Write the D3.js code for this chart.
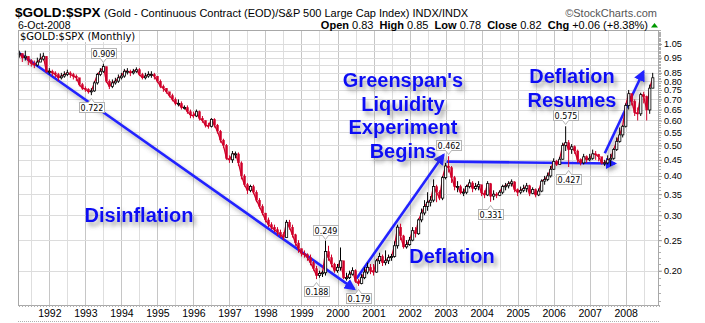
<!DOCTYPE html>
<html><head><meta charset="utf-8">
<script src="https://cdn.jsdelivr.net/npm/d3@7"></script>
<style>body{margin:0;background:#fff}svg{display:block}</style>
</head><body><svg id="c" width="705" height="323"></svg>
<script>
// ---- data (monthly, starting March 1991) ----
const firstYear = 1991, firstMonth = 2; // 0-based month index: March
const closes = [
  0.98,0.95,0.96,0.93,0.91,0.90,0.92,0.94,0.96,0.86,
  0.86,0.85,0.84,0.82,0.83,0.84,0.85,0.84,0.83,0.82,0.78,0.76,
  0.755,0.74,0.745,0.79,0.84,0.86,0.89,0.80,0.77,0.79,0.80,0.82,
  0.83,0.86,0.86,0.85,0.86,0.87,0.84,0.82,0.83,0.84,0.84,0.83,
  0.80,0.77,0.76,0.74,0.72,0.70,0.68,0.68,0.66,0.66,0.64,0.625,
  0.62,0.64,0.61,0.60,0.58,0.575,0.605,0.58,0.555,0.52,0.50,0.455,
  0.45,0.47,0.47,0.44,0.40,0.375,0.36,0.37,0.355,0.335,0.32,0.305,
  0.29,0.28,0.275,0.27,0.265,0.26,0.255,0.285,0.275,0.26,0.245,0.235,
  0.227,0.225,0.22,0.212,0.203,0.193,0.196,0.197,0.23,0.22,0.21,0.20,
  0.205,0.215,0.19,0.19,0.195,0.20,0.185,0.182,0.19,0.198,0.205,0.20,
  0.198,0.215,0.222,0.212,0.215,0.22,0.222,0.24,0.275,0.258,0.238,0.242,
  0.25,0.268,0.262,0.29,0.305,0.32,0.33,0.335,0.37,0.355,0.34,0.395,
  0.43,0.425,0.395,0.37,0.37,0.355,0.355,0.37,0.38,0.365,0.37,0.375,
  0.353,0.348,0.378,0.345,0.35,0.347,0.355,0.37,0.372,0.378,0.383,0.362,
  0.355,0.36,0.365,0.372,0.352,0.362,0.348,0.358,0.385,0.39,0.40,0.42,
  0.445,0.435,0.452,0.50,0.51,0.485,0.495,0.48,0.45,0.44,0.46,0.45,
  0.455,0.47,0.468,0.46,0.44,0.44,0.45,0.455,0.485,0.515,0.54,0.575,
  0.67,0.73,0.69,0.635,0.63,0.725,0.715,0.648,0.76,0.82
];
const highs = [
  1.00,0.98,1.00,0.96,0.94,0.93,0.95,0.98,0.985,0.96,
  0.88,0.87,0.86,0.85,0.85,0.86,0.87,0.86,0.85,0.84,0.82,0.79,
  0.77,0.76,0.76,0.80,0.85,0.88,0.909,0.89,0.81,0.81,0.82,0.84,
  0.85,0.875,0.88,0.87,0.875,0.885,0.88,0.85,0.85,0.86,0.86,0.85,
  0.83,0.81,0.78,0.76,0.74,0.73,0.71,0.70,0.69,0.67,0.67,0.65,
  0.64,0.65,0.645,0.62,0.60,0.59,0.61,0.61,0.585,0.56,0.525,0.505,
  0.465,0.48,0.478,0.475,0.445,0.405,0.38,0.375,0.375,0.36,0.34,0.325,
  0.305,0.295,0.285,0.28,0.275,0.27,0.265,0.29,0.29,0.28,0.262,0.25,
  0.235,0.232,0.227,0.225,0.215,0.207,0.20,0.20,0.249,0.24,0.225,0.212,
  0.21,0.237,0.215,0.197,0.20,0.205,0.202,0.188,0.195,0.205,0.212,0.21,
  0.21,0.218,0.228,0.225,0.232,0.225,0.226,0.248,0.28,0.282,0.26,0.25,
  0.256,0.275,0.275,0.293,0.315,0.335,0.355,0.345,0.39,0.375,0.36,0.40,
  0.44,0.462,0.43,0.40,0.385,0.375,0.365,0.375,0.39,0.385,0.38,0.385,
  0.375,0.36,0.385,0.38,0.36,0.355,0.36,0.375,0.38,0.385,0.39,0.385,
  0.365,0.37,0.375,0.38,0.375,0.368,0.365,0.365,0.39,0.40,0.41,0.43,
  0.455,0.45,0.46,0.51,0.575,0.52,0.505,0.50,0.485,0.455,0.47,0.465,
  0.47,0.485,0.48,0.47,0.46,0.45,0.465,0.47,0.49,0.53,0.57,0.58,
  0.68,0.75,0.73,0.70,0.66,0.735,0.74,0.72,0.78,0.85
];
const lows = [
  0.95,0.92,0.93,0.90,0.89,0.88,0.89,0.92,0.93,0.85,
  0.84,0.83,0.82,0.80,0.81,0.82,0.83,0.82,0.81,0.80,0.77,0.75,
  0.74,0.73,0.722,0.74,0.78,0.83,0.85,0.79,0.755,0.76,0.78,0.79,
  0.81,0.82,0.84,0.83,0.84,0.85,0.83,0.81,0.81,0.82,0.82,0.81,
  0.79,0.76,0.74,0.73,0.71,0.69,0.67,0.665,0.65,0.65,0.63,0.61,
  0.61,0.615,0.60,0.59,0.57,0.565,0.57,0.57,0.545,0.51,0.49,0.45,
  0.44,0.44,0.455,0.43,0.39,0.37,0.35,0.355,0.35,0.33,0.315,0.30,
  0.285,0.275,0.27,0.265,0.258,0.255,0.25,0.255,0.27,0.255,0.24,0.228,
  0.222,0.22,0.215,0.208,0.20,0.188,0.19,0.191,0.193,0.215,0.205,0.197,
  0.197,0.20,0.188,0.186,0.188,0.193,0.183,0.179,0.181,0.188,0.195,0.195,
  0.193,0.197,0.21,0.207,0.208,0.21,0.215,0.22,0.235,0.25,0.235,0.235,
  0.24,0.248,0.255,0.26,0.285,0.30,0.31,0.32,0.33,0.33,0.335,0.335,
  0.39,0.41,0.38,0.36,0.355,0.35,0.345,0.35,0.365,0.355,0.36,0.36,
  0.345,0.34,0.345,0.331,0.335,0.34,0.345,0.35,0.36,0.365,0.37,0.355,
  0.345,0.35,0.355,0.355,0.345,0.35,0.342,0.345,0.355,0.375,0.385,0.395,
  0.418,0.43,0.435,0.45,0.48,0.427,0.47,0.47,0.44,0.432,0.435,0.44,
  0.445,0.45,0.45,0.445,0.435,0.43,0.435,0.43,0.45,0.48,0.51,0.53,
  0.57,0.65,0.67,0.62,0.60,0.62,0.68,0.60,0.63,0.76
];
const gridValues = [1.05,1.00,0.95,0.90,0.85,0.80,0.75,0.70,0.65,0.60,0.55,0.50,0.45,0.40,0.35,0.30,0.25,0.20];
const tickLabels = [1.05,0.95,0.85,0.80,0.75,0.70,0.65,0.60,0.55,0.50,0.45,0.40,0.35,0.30,0.25,0.20];
const yearLabels = [1992,1993,1994,1995,1996,1997,1998,1999,2000,2001,2002,2003,2004,2005,2006,2007,2008];
// value call-outs: [label, year, month(0-based), value, side]
const callouts = [
  ["0.909",1993,6,0.909,"above"],["0.722",1993,2,0.722,"below"],
  ["0.249",1999,8,0.249,"above"],["0.188",1999,5,0.188,"below"],
  ["0.179",2000,7,0.179,"below"],["0.462",2003,1,0.462,"above"],
  ["0.331",2004,3,0.331,"below"],["0.575",2006,4,0.575,"above"],
  ["0.427",2006,5,0.427,"below"]
];
// trend arrows: [fromYear, fromValue, toYear, toValue] (decimal years)
const arrows = [
  [1991.16,0.983,2000.46,0.175],
  [2000.53,0.189,2002.94,0.466],
  [2003.03,0.444,2007.70,0.438],
  [2007.42,0.472,2008.49,0.857]
];
const captions = [
  {lines:["Disinflation"], x:139, y:222},
  {lines:["Greenspan's","Liquidity","Experiment","Begins"], x:403, y:87},
  {lines:["Deflation"], x:452, y:263},
  {lines:["Deflation","Resumes"], x:572, y:83}
];

// ---- layout ----
const P = {l:18, t:30, r:659, b:305};
const svg = d3.select("#c");
svg.append("rect").attr("width",705).attr("height",323).attr("fill","#fff");
const defs = svg.append("defs");
function shadow(id, dx, dy, sd, op){
  const f = defs.append("filter").attr("id",id).attr("x","-30%").attr("y","-30%").attr("width","170%").attr("height","180%");
  f.append("feGaussianBlur").attr("in","SourceAlpha").attr("stdDeviation",sd).attr("result","bl");
  f.append("feOffset").attr("in","bl").attr("dx",dx).attr("dy",dy).attr("result","of");
  f.append("feFlood").attr("flood-color","#555").attr("flood-opacity",op).attr("result","fl");
  f.append("feComposite").attr("in","fl").attr("in2","of").attr("operator","in").attr("result","sh");
  const m = f.append("feMerge"); m.append("feMergeNode").attr("in","sh"); m.append("feMergeNode").attr("in","SourceGraphic");
}
shadow("tsh",3,4,2.2,0.55);
shadow("ash",2,3,2,0.5);
defs.append("marker").attr("id","ah").attr("viewBox","0 0 10 10").attr("refX",8).attr("refY",5)
  .attr("markerWidth",4.4).attr("markerHeight",4.4).attr("orient","auto").attr("markerUnits","strokeWidth")
  .append("path").attr("d","M0,0L10,5L0,10z").attr("fill","#2222ff");

const x = d3.scaleLinear().domain([1991.13, 2008.925]).range([P.l, P.r]);
const y = d3.scaleLog().domain([0.1556, 1.163]).range([P.b, P.t]);
const tOf = i => firstYear + (firstMonth + i)/12;

// gridlines
const g = svg.append("g");
const halfYears = d3.range(1991.5, 2009, 0.5);
g.selectAll("line.v").data(halfYears).join("line")
  .attr("x1",d=>Math.round(x(d))+0.5).attr("x2",d=>Math.round(x(d))+0.5).attr("y1",P.t).attr("y2",P.b)
  .attr("stroke",d=>Number.isInteger(d)?"#c6c6c6":"#dedede").attr("stroke-width",1);
g.selectAll("line.h").data(gridValues).join("line")
  .attr("x1",P.l).attr("x2",P.r).attr("y1",d=>Math.round(y(d))+0.5).attr("y2",d=>Math.round(y(d))+0.5)
  .attr("stroke","#dcdcdc");

// inner title
svg.append("rect").attr("x",P.l+1).attr("y",P.t+1).attr("width",116).attr("height",11).attr("fill","#fff");
svg.append("text").attr("x",P.l+2).attr("y",P.t+9.5).attr("font-family","DejaVu Sans").attr("font-size",10)
  .attr("fill","#000").text("$GOLD:$SPX (Monthly)");

// arrows
const ag = svg.append("g").attr("filter","url(#ash)");
ag.selectAll("line").data(arrows).join("line")
  .attr("x1",d=>x(d[0])).attr("y1",d=>y(d[1])).attr("x2",d=>x(d[2])).attr("y2",d=>y(d[3]))
  .attr("stroke","#2222ff").attr("stroke-width",2.6).attr("marker-end","url(#ah)");

// price: close line + candles
const idx = d3.range(closes.length);
const red = "#d0002a";
svg.append("path").datum(idx).attr("fill","none").attr("stroke",red).attr("stroke-width",1.3)
  .attr("d", d3.line().x(i=>x(tOf(i))).y(i=>y(closes[i])));
const cg = svg.append("g");
idx.forEach(i=>{
  const prev = i>0 ? closes[i-1] : closes[i];
  const up = closes[i] >= prev;
  const cx = x(tOf(i));
  const col = up ? "#000" : red;
  cg.append("line").attr("x1",cx).attr("x2",cx).attr("y1",y(highs[i])).attr("y2",y(lows[i]))
    .attr("stroke",col).attr("stroke-width",1);
  const y0 = y(Math.max(prev,closes[i])), y1 = y(Math.min(prev,closes[i]));
  cg.append("rect").attr("x",cx-1).attr("y",y0).attr("width",2.2).attr("height",Math.max(1,y1-y0))
    .attr("fill",up?"#fff":red).attr("stroke",col).attr("stroke-width",up?0.8:0.3);
});

// captions
const capG = svg.append("g").attr("filter","url(#tsh)");
captions.forEach(c=>{
  c.lines.forEach((ln,k)=>{
    capG.append("text").attr("x",c.x).attr("y",c.y+k*23.7).attr("text-anchor","middle")
      .attr("font-family","Liberation Sans, Arial").attr("font-weight","bold").attr("font-size",20)
      .attr("fill","#1010f4").text(ln);
  });
});

// call-outs
const coG = svg.append("g");
callouts.forEach(([lab,yr,mo,v,side])=>{
  const cx = x(yr + mo/12), cy = y(v);
  const w = 25, h = 10;
  const top = side==="above" ? cy - 6 - h : cy + 7;
  const bx = Math.round(cx - w/2)+0.5, by = Math.round(top)+0.5;
  coG.append("rect").attr("x",bx).attr("y",by).attr("width",w).attr("height",h)
    .attr("fill","#fff").attr("stroke","#b4b4b4");
  const ty = side==="above" ? by+h : by;
  const dir = side==="above" ? 1 : -1;
  coG.append("path").attr("d",`M${cx-3},${ty}L${cx},${ty+dir*4}L${cx+3},${ty}`)
    .attr("fill","#fff").attr("stroke","#b4b4b4");
  coG.append("line").attr("x1",cx-2.5).attr("x2",cx+2.5).attr("y1",ty).attr("y2",ty).attr("stroke","#fff");
  coG.append("text").attr("x",bx+w/2).attr("y",by+8.3).attr("text-anchor","middle")
    .attr("font-family","DejaVu Sans").attr("font-size",8).attr("fill","#000").text(lab);
});

// frame
svg.append("rect").attr("x",P.l+0.5).attr("y",P.t+0.5).attr("width",P.r-P.l-1).attr("height",P.b-P.t)
  .attr("fill","none").attr("stroke","#a8a8a8");
// minor ticks
const months = d3.range(1991+2/12, 2008.92, 1/12);
svg.append("g").selectAll("line").data(months).join("line")
  .attr("x1",d=>Math.round(x(d))+0.5).attr("x2",d=>Math.round(x(d))+0.5).attr("y1",P.b).attr("y2",P.b+2)
  .attr("stroke","#b0b0b0");
const minorVals = d3.range(16,117).map(d=>d/100);
svg.append("g").selectAll("line").data(minorVals).join("line")
  .attr("x1",P.r).attr("x2",P.r+2).attr("y1",d=>Math.round(y(d))+0.5).attr("y2",d=>Math.round(y(d))+0.5)
  .attr("stroke","#b0b0b0");

// axes
const yAxis = svg.append("g").attr("transform",`translate(${P.r},0)`)
  .call(d3.axisRight(y).tickValues(tickLabels).tickFormat(d3.format(".2f")).tickSize(3).tickPadding(2));
yAxis.select(".domain").remove();
yAxis.selectAll("line").attr("stroke","#999");
yAxis.selectAll("text").attr("font-family","Liberation Sans, Arial").attr("font-size",9.2).attr("fill","#000");
const xAxis = svg.append("g").attr("transform",`translate(0,${P.b})`)
  .call(d3.axisBottom(x).tickValues(yearLabels).tickFormat(d3.format("d")).tickSize(0).tickPadding(5));
xAxis.select(".domain").remove();
xAxis.selectAll("text").attr("font-family","Liberation Sans, Arial").attr("font-size",10.5).attr("fill","#000");

// lower panel edge
svg.append("line").attr("x1",P.l).attr("x2",P.r).attr("y1",321.5).attr("y2",321.5)
  .attr("stroke","#b0b0b0").attr("stroke-dasharray","1,1");

// header
const F = "Liberation Sans, Arial";
svg.append("text").attr("x",15).attr("y",16.5).attr("font-family",F).attr("font-weight","bold").attr("font-size",13.5)
  .text("$GOLD:$SPX");
svg.append("text").attr("x",104).attr("y",16.5).attr("font-family",F).attr("font-size",11)
  .text("(Gold - Continuous Contract (EOD)/S&P 500 Large Cap Index) INDX/INDX");
svg.append("text").attr("x",657).attr("y",16.5).attr("text-anchor","end").attr("font-family",F).attr("font-size",11)
  .attr("fill","#555").text("\u00A9StockCharts.com");
svg.append("text").attr("x",18).attr("y",28.5).attr("font-family",F).attr("font-size",10.5).text("6-Oct-2008");
const hd = svg.append("text").attr("x",648).attr("y",28.5).attr("text-anchor","end").attr("font-family",F).attr("font-size",11);
[["Open"," 0.83  "],["High"," 0.85  "],["Low"," 0.78  "],["Close"," 0.82  "],["Chg"," +0.06 (+8.38%)"]].forEach(([a,b])=>{
  hd.append("tspan").attr("font-weight","bold").text(a);
  hd.append("tspan").style("white-space","pre").text(b);
});
svg.append("path").attr("d","M651,27.5L654.5,23L658,27.5z").attr("fill","#009900");
</script></body></html>
